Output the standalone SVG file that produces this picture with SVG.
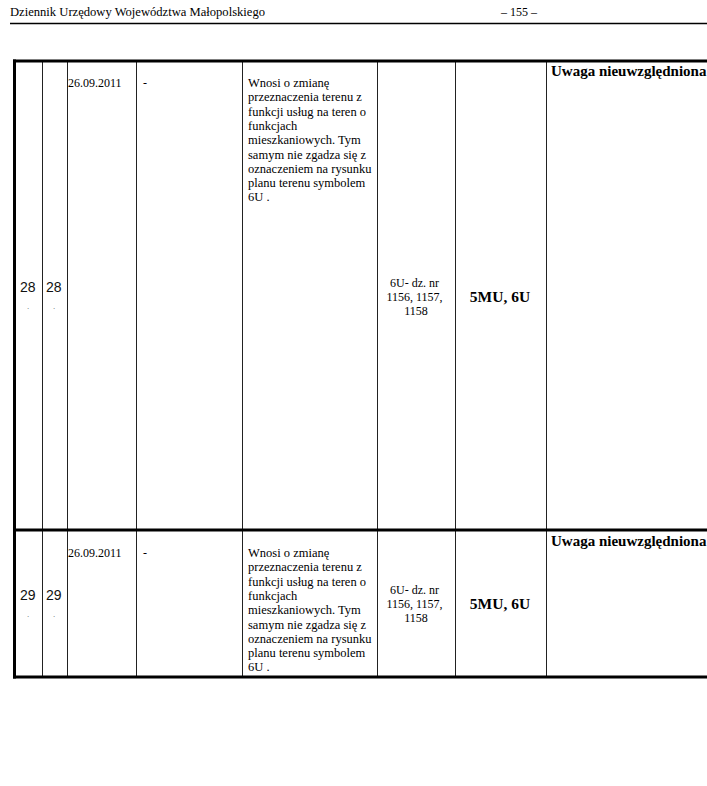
<svg xmlns="http://www.w3.org/2000/svg" width="707" height="786" viewBox="0 0 707 786">
<style>
.s{font-family:"Liberation Serif","Times New Roman",serif;font-size:12px;fill:#000}
.t{font-family:"Liberation Serif","Times New Roman",serif;font-size:12.5px;fill:#000}
.b{font-family:"Liberation Serif","Times New Roman",serif;font-weight:bold;fill:#000}
.n{font-family:"Liberation Sans",Arial,sans-serif;font-size:14px;fill:#111}
.d{font-family:"Liberation Sans",Arial,sans-serif;font-size:8px;fill:#555}
.thin{stroke:#222;stroke-width:1;fill:none}
.thick{stroke:#000;stroke-width:3;fill:none}
</style>
<rect width="707" height="786" fill="#fff"/>
<g id="header">
<text x="10" y="16" class="s" font-size="13" textLength="255" lengthAdjust="spacingAndGlyphs">Dziennik Urzędowy Województwa Małopolskiego</text>
<text x="519" y="16" class="s" font-size="12" text-anchor="middle">– 155 –</text>
<line x1="10" y1="23.5" x2="707" y2="23.5" stroke="#000" stroke-width="1.5"/>
</g>
<g id="grid">
<line class="thin" x1="42.5" y1="61" x2="42.5" y2="677"/>
<line class="thin" x1="67.5" y1="61" x2="67.5" y2="677"/>
<line class="thin" x1="136.5" y1="61" x2="136.5" y2="677"/>
<line class="thin" x1="242.5" y1="61" x2="242.5" y2="677"/>
<line class="thin" x1="377.5" y1="61" x2="377.5" y2="677"/>
<line class="thin" x1="455.5" y1="61" x2="455.5" y2="677"/>
<line class="thin" x1="546.5" y1="61" x2="546.5" y2="677"/>
<line class="thick" x1="13" y1="61" x2="707" y2="61"/>
<line class="thick" x1="13" y1="530" x2="707" y2="530"/>
<line class="thick" x1="13" y1="677" x2="707" y2="677"/>
<line class="thick" x1="14.5" y1="59.5" x2="14.5" y2="678.5"/>
</g>
<g id="row28">
<text x="20" y="292" class="n">28</text>
<text x="27" y="309" class="d">.</text>
<text x="46" y="292" class="n">28</text>
<text x="53" y="309" class="d">.</text>
<text x="68" y="87" class="s">26.09.2011</text>
<text x="143" y="87" class="s">-</text>
<text x="248" class="t">
<tspan x="248" y="87">Wnosi o zmianę</tspan>
<tspan x="248" y="101.3">przeznaczenia terenu z</tspan>
<tspan x="248" y="115.6">funkcji usług na teren o</tspan>
<tspan x="248" y="129.9">funkcjach</tspan>
<tspan x="248" y="144.2">mieszkaniowych. Tym</tspan>
<tspan x="248" y="158.5">samym nie zgadza się z</tspan>
<tspan x="248" y="172.8">oznaczeniem na rysunku</tspan>
<tspan x="248" y="187.1">planu terenu symbolem</tspan>
<tspan x="248" y="201.4">6U .</tspan>
</text>
<text class="s" text-anchor="middle">
<tspan x="416" y="287">6U- dz. nr</tspan>
<tspan x="416" y="301">1156, 1157,</tspan>
<tspan x="416" y="315">1158</tspan>
</text>
<text x="500" y="302" class="b" font-size="15.5" text-anchor="middle">5MU, 6U</text>
<text x="551" y="76" class="b" font-size="15">Uwaga nieuwzględniona</text>
</g>
<g id="row29">
<text x="20" y="600" class="n">29</text>
<text x="27" y="617" class="d">.</text>
<text x="46" y="600" class="n">29</text>
<text x="53" y="617" class="d">.</text>
<text x="68" y="557" class="s">26.09.2011</text>
<text x="143" y="557" class="s">-</text>
<text x="248" class="t">
<tspan x="248" y="557">Wnosi o zmianę</tspan>
<tspan x="248" y="571.3">przeznaczenia terenu z</tspan>
<tspan x="248" y="585.6">funkcji usług na teren o</tspan>
<tspan x="248" y="599.9">funkcjach</tspan>
<tspan x="248" y="614.2">mieszkaniowych. Tym</tspan>
<tspan x="248" y="628.5">samym nie zgadza się z</tspan>
<tspan x="248" y="642.8">oznaczeniem na rysunku</tspan>
<tspan x="248" y="657.1">planu terenu symbolem</tspan>
<tspan x="248" y="671.4">6U .</tspan>
</text>
<text class="s" text-anchor="middle">
<tspan x="416" y="594">6U- dz. nr</tspan>
<tspan x="416" y="608">1156, 1157,</tspan>
<tspan x="416" y="622">1158</tspan>
</text>
<text x="500" y="609" class="b" font-size="15.5" text-anchor="middle">5MU, 6U</text>
<text x="551" y="546" class="b" font-size="15">Uwaga nieuwzględniona</text>
</g>
</svg>
